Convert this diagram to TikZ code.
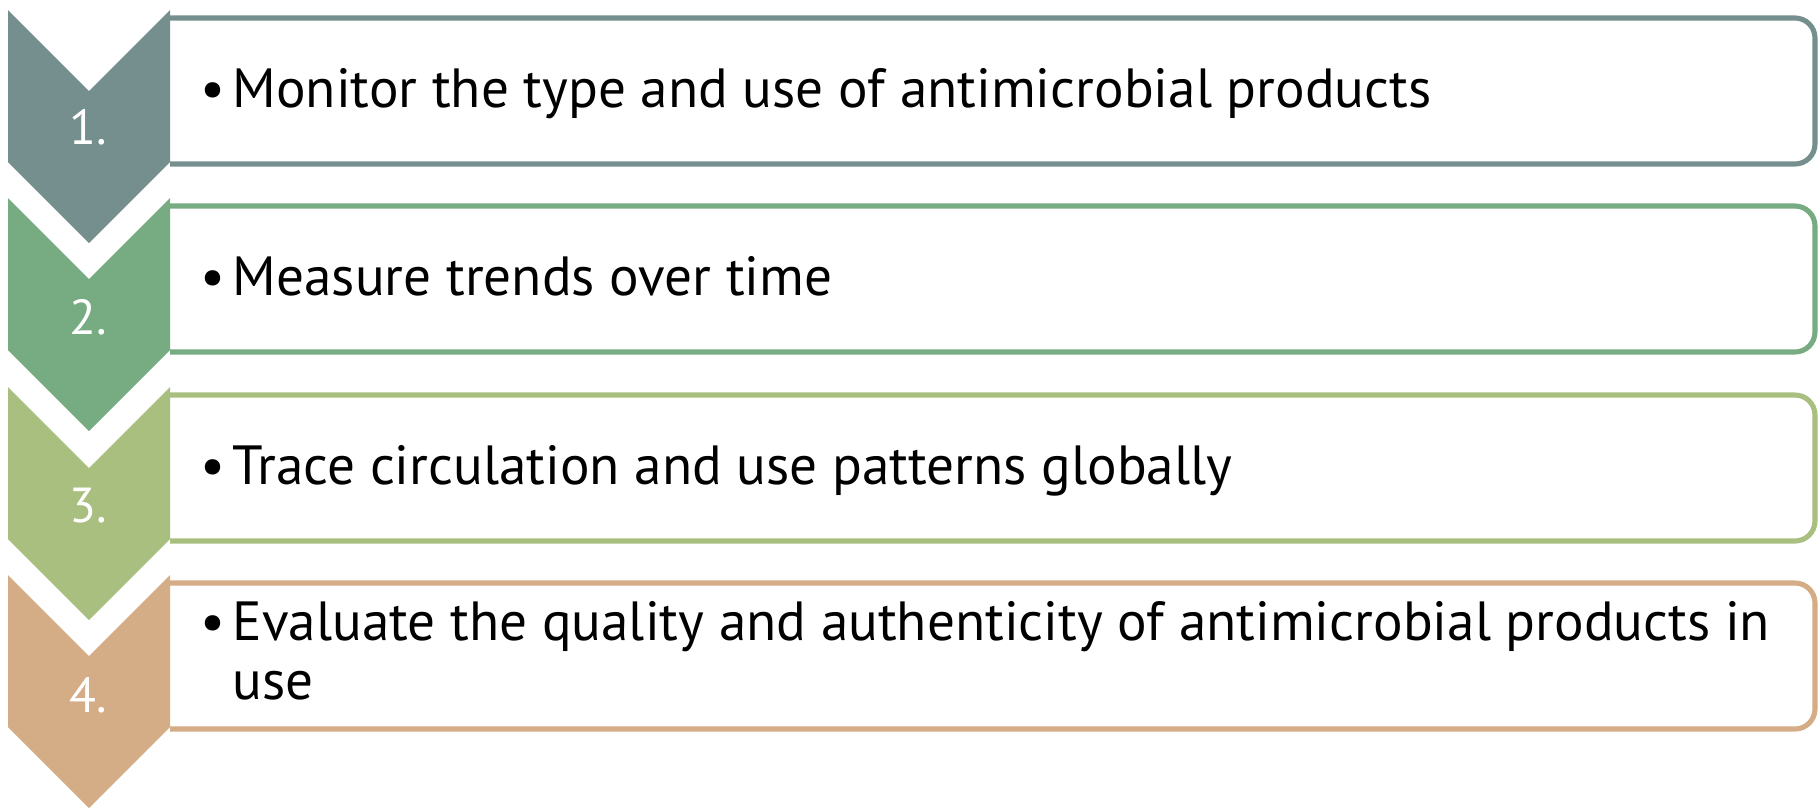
\documentclass[tikz,border=0pt]{standalone}
\usepackage{fontspec}
\setmainfont{PT Sans}
\usetikzlibrary{positioning}
\definecolor{slate}{RGB}{117,143,142}
\definecolor{sage}{RGB}{119,171,129}
\definecolor{olive}{RGB}{169,191,128}
\definecolor{tan}{RGB}{212,172,134}
\newcommand{\bulitem}[1]{\makebox[0.32cm][l]{\textbullet}\parbox[t]{15.58cm}{\raggedright #1}}

\begin{document}
\begin{tikzpicture}[x=0.01cm, y=-0.01cm,
  frame/.style={draw, line width=1.45pt, fill=white, rounded corners=0.2cm},
  num/.style={text=white, inner sep=0pt, anchor=base, font=\fontsize{14pt}{17pt}\selectfont},
  item/.style={anchor=base west, inner sep=0pt, font=\fontsize{15.7pt}{17pt}\selectfont}]
 \useasboundingbox (0,0) rectangle (1820,808);
 % boxes, cut at the chevrons
 \begin{scope}
  \clip (170,0) rectangle (1820,808);
  \draw[frame, draw=slate] (140,18) rectangle (1815,164);
  \draw[frame, draw=sage] (140,206) rectangle (1815,352);
  \draw[frame, draw=olive] (140,395) rectangle (1815,541);
  \draw[frame, draw=tan] (140,583) rectangle (1815,729);
 \end{scope}
 % chevrons
 \fill[slate] (8,10) -- (89,91) -- (170,10) -- (170,162) -- (89,243) -- (8,162) -- cycle;
 \fill[sage] (8,198) -- (89,279) -- (170,198) -- (170,350) -- (89,431) -- (8,350) -- cycle;
 \fill[olive] (8,387) -- (89,468) -- (170,387) -- (170,539) -- (89,620) -- (8,539) -- cycle;
 \fill[tan] (8,575) -- (89,656) -- (170,575) -- (170,727) -- (89,808) -- (8,727) -- cycle;
 \node[num] (n1) at (88,144) {1.};
 \node[num] (n2) at (88,334) {2.};
 \node[num] (n3) at (88,522) {3.};
 \node[num] (n4) at (88,712) {4.};
 \node[item] (t1) at (200,107) {\bulitem{Monitor the type and use of antimicrobial products}};
 \node[item] (t2) at (200,295) {\bulitem{Measure trends over time}};
 \node[item] (t3) at (200,484) {\bulitem{Trace circulation and use patterns globally}};
 \node[item] (t4) at (200,640) {\bulitem{Evaluate the quality and authenticity of antimicrobial products in use}};
\end{tikzpicture}
\end{document}
